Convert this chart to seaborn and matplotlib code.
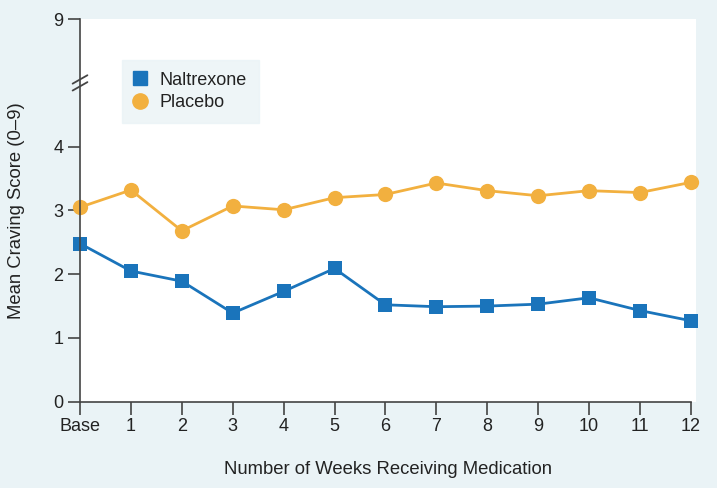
import numpy as np
import pandas as pd
import matplotlib
matplotlib.use("Agg")
import matplotlib.pyplot as plt
from matplotlib.lines import Line2D
import seaborn as sns

weeks = ["Base", "1", "2", "3", "4", "5", "6", "7", "8", "9", "10", "11", "12"]
naltrexone = [2.48, 2.05, 1.89, 1.39, 1.73, 2.09, 1.52, 1.49, 1.50, 1.53, 1.63, 1.43, 1.27]
placebo = [3.05, 3.32, 2.68, 3.07, 3.01, 3.20, 3.25, 3.43, 3.31, 3.23, 3.31, 3.28, 3.44]
series_names = ["Naltrexone", "Placebo"]
y_ticks = [0, 1, 2, 3, 4, 9]

BG = "#eaf3f6"
BLUE = "#1a74bb"
ORANGE = "#f2b03f"
AX = "#444444"
TXT = "#222222"
FS = 13

sns.set_theme(style="white")
plt.rcParams["font.family"] = ["Liberation Sans", "DejaVu Sans"]

df = pd.DataFrame({
    "week": list(range(len(weeks))) * 2,
    "score": naltrexone + placebo,
    "group": [series_names[0]] * len(weeks) + [series_names[1]] * len(weeks),
})

fig = plt.figure(figsize=(7.17, 4.88), dpi=100, facecolor=BG)
ax = fig.add_axes([0.1116, 0.1768, 0.859, 0.784])
ax.set_facecolor("white")

BREAK = 5.0
def fwd(v):
    v = np.asarray(v, dtype=float)
    return np.where(v <= BREAK, v, BREAK + (v - BREAK) * 0.25)
def inv(p):
    p = np.asarray(p, dtype=float)
    return np.where(p <= BREAK, p, BREAK + (p - BREAK) * 4.0)
ax.set_yscale("function", functions=(fwd, inv))

sns.lineplot(data=df, x="week", y="score", hue="group", style="group",
             markers={"Naltrexone": "s", "Placebo": "o"}, dashes=False,
             palette={"Naltrexone": BLUE, "Placebo": ORANGE},
             markersize=10, linewidth=2, markeredgewidth=0,
             ax=ax, legend=False)
for line in ax.lines:
    line.set_clip_on(False)
ax.lines[1].set_markersize(11)

ax.set_xlim(0, 12.1)
ax.set_ylim(0, 9)
ax.set_xticks(range(len(weeks)))
ax.set_xticklabels(weeks)
ax.set_yticks(y_ticks)
ax.set_yticklabels([str(t) for t in y_ticks])

for s in ["top", "right"]:
    ax.spines[s].set_visible(False)
for s in ["left", "bottom"]:
    ax.spines[s].set_color(AX)
    ax.spines[s].set_linewidth(1.2)
ax.spines["bottom"].set_bounds(0, 12)
ax.tick_params(axis="both", direction="out", length=9, width=1.2, color=AX,
               labelsize=FS, labelcolor=TXT, pad=3, left=True, bottom=True)

ax.set_xlabel("Number of Weeks Receiving Medication", fontsize=FS + 0.3, color=TXT)
ax.set_ylabel("Mean Craving Score (0\u20139)", fontsize=FS + 0.3, color=TXT)
ax.xaxis.set_label_coords(0.5, -0.155)
ax.yaxis.set_label_coords(-0.089, 0.5)

# axis break marks "//"
ybrk = 5.0 / 6.0
for dy in (-0.009, 0.009):
    ax.plot([-0.012, 0.012], [ybrk + dy - 0.011, ybrk + dy + 0.011],
            transform=ax.transAxes, color=AX, lw=1.3, clip_on=False)

handles = [Line2D([], [], marker="s", color=BLUE, lw=0, markersize=10),
           Line2D([], [], marker="o", color=ORANGE, lw=0, markersize=11)]
leg = ax.legend(handles, series_names, loc="upper left", bbox_to_anchor=(0.068, 0.893),
                borderaxespad=0, frameon=True, fancybox=False, fontsize=FS,
                handlelength=0.7, handletextpad=0.75, borderpad=0.65, labelspacing=0.3)
leg.get_frame().set_facecolor(BG)
leg.get_frame().set_edgecolor(BG)
for t in leg.get_texts():
    t.set_color(TXT)

fig.savefig("out.png", dpi=100, facecolor=BG)
